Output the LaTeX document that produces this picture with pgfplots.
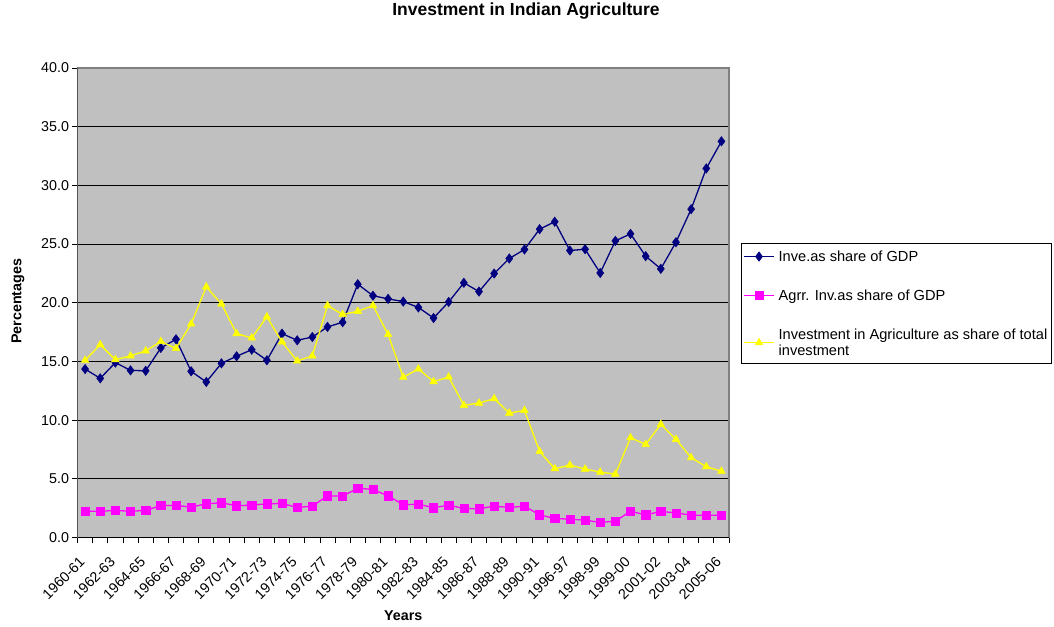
\documentclass[border=0pt]{standalone}
\usepackage{fontspec}
\setmainfont{Liberation Sans}
\usepackage{pgfplots}
\usepackage{pgfplotstable}
\pgfplotsset{compat=1.18}
\definecolor{navyc}{HTML}{000080}
\definecolor{magc}{HTML}{FF00FF}
\definecolor{yelc}{HTML}{FFFF00}
\definecolor{bgc}{HTML}{C0C0C0}
\definecolor{bordc}{HTML}{808080}
\pgfplotstableread{
x a b c
0 14.35 2.22 15.10
1 13.56 2.24 16.43
2 14.90 2.30 15.15
3 14.24 2.24 15.47
4 14.20 2.30 15.90
5 16.15 2.73 16.70
6 16.89 2.73 16.10
7 14.16 2.59 18.20
8 13.25 2.87 21.35
9 14.84 2.96 19.90
10 15.44 2.70 17.37
11 16.00 2.76 17.00
12 15.10 2.87 18.80
13 17.37 2.90 16.66
14 16.80 2.56 15.04
15 17.08 2.67 15.47
16 17.94 3.55 19.76
17 18.34 3.52 19.00
18 21.58 4.20 19.27
19 20.60 4.09 19.76
20 20.33 3.55 17.30
21 20.10 2.79 13.65
22 19.60 2.84 14.36
23 18.70 2.53 13.28
24 20.07 2.76 13.67
25 21.70 2.47 11.26
26 20.95 2.45 11.45
27 22.49 2.67 11.83
28 23.77 2.56 10.60
29 24.54 2.67 10.83
30 26.27 1.93 7.33
31 26.90 1.62 5.86
32 24.45 1.56 6.17
33 24.56 1.48 5.83
34 22.54 1.28 5.57
35 25.27 1.39 5.40
36 25.87 2.24 8.50
37 23.97 1.93 7.93
38 22.89 2.22 9.64
39 25.16 2.10 8.36
40 27.97 1.90 6.80
41 31.44 1.90 6.03
42 33.75 1.90 5.65
}\datatable
\begin{document}
\begin{tikzpicture}
\useasboundingbox (0,0) rectangle (1054bp,627bp);
\begin{axis}[
  at={(77.5bp,89.5bp)}, anchor=south west,
  scale only axis, width=651.5bp, height=469.5bp,
  xmin=-0.5, xmax=42.5, ymin=0, ymax=40,
  ytick={0,5,...,40},
  xtick={0,2,...,42},
  xticklabels={1960-61,1962-63,1964-65,1966-67,1968-69,1970-71,1972-73,1974-75,1976-77,1978-79,1980-81,1982-83,1984-85,1986-87,1988-89,1990-91,1996-97,1998-99,1999-00,2001-02,2003-04,2005-06},
  minor xtick={-0.5,0.5,...,42.5},
  tick align=outside,
  xtick pos=bottom, ytick pos=left,
  major tick length=5bp, minor tick length=5bp,
  major x tick style={draw=none},
  minor x tick style={black, line width=0.8bp},
  major y tick style={black, line width=0.8bp},
  ymajorgrids,
  major grid style={black, line width=0.8bp},
  axis background/.style={fill=bgc},
  axis line style={draw=bordc, line width=1.2bp},
  /pgf/number format/assume math mode=true,
  tick label style={font=\fontsize{14.3bp}{17bp}\selectfont},
  yticklabel style={/pgf/number format/.cd, fixed, fixed zerofill, precision=1},
  xticklabel style={rotate=45, anchor=east, xshift=-12bp, yshift=-10bp, inner sep=2bp},
  label style={font=\bfseries\fontsize{14.3bp}{17bp}\selectfont},
  xlabel={Years},
  ylabel={Percentages},
  xlabel style={at={(rel axis cs:0.5,-0.1663)}, anchor=center},
  ylabel style={at={(rel axis cs:-0.0913,0.503)}, anchor=center},
  title={Investment in Indian Agriculture},
  title style={at={(rel axis cs:0.6884,1.1087)}, anchor=center, font=\bfseries\fontsize{17.5bp}{20bp}\selectfont},
  legend style={at={(rel axis cs:1.0184,0.627)}, anchor=north west, draw=black, line width=0.8bp, fill=white,
    font=\fontsize{14.6bp}{16bp}\selectfont, inner ysep=5bp, inner xsep=2bp, row sep=23bp, cells={align=left},
    /tikz/every odd column/.append style={column sep=2bp}},
  legend cell align=left,
  legend image code/.code={\draw[mark repeat=2,mark phase=2,#1] plot coordinates {(0bp,0bp) (15bp,0bp) (30bp,0bp)};},
]
\addplot[navyc, line width=1.3bp, mark=diamond*, mark size=4.7bp, mark options={solid, fill=navyc, draw=navyc, line width=0.5bp}] table[x=x, y=a] {\datatable};
\addlegendentry{Inve.as share of GDP}
\addplot[magc, line width=1.3bp, mark=square*, mark size=4.1bp, mark options={solid, fill=magc, draw=magc, line width=0.5bp}] table[x=x, y=b] {\datatable};
\addlegendentry{Agrr. Inv.as share of GDP}
\addplot[yelc, line width=1.3bp, mark=triangle*, mark size=4.4bp, mark options={solid, fill=yelc, draw=yelc, line width=0.5bp}] table[x=x, y=c] {\datatable};
\addlegendentry{Investment in Agriculture as share of total\\investment}
\draw[black, line width=1.2bp] (rel axis cs:0,1) -- (rel axis cs:0,0) -- (rel axis cs:1,0);
\end{axis}
\end{tikzpicture}
\end{document}
